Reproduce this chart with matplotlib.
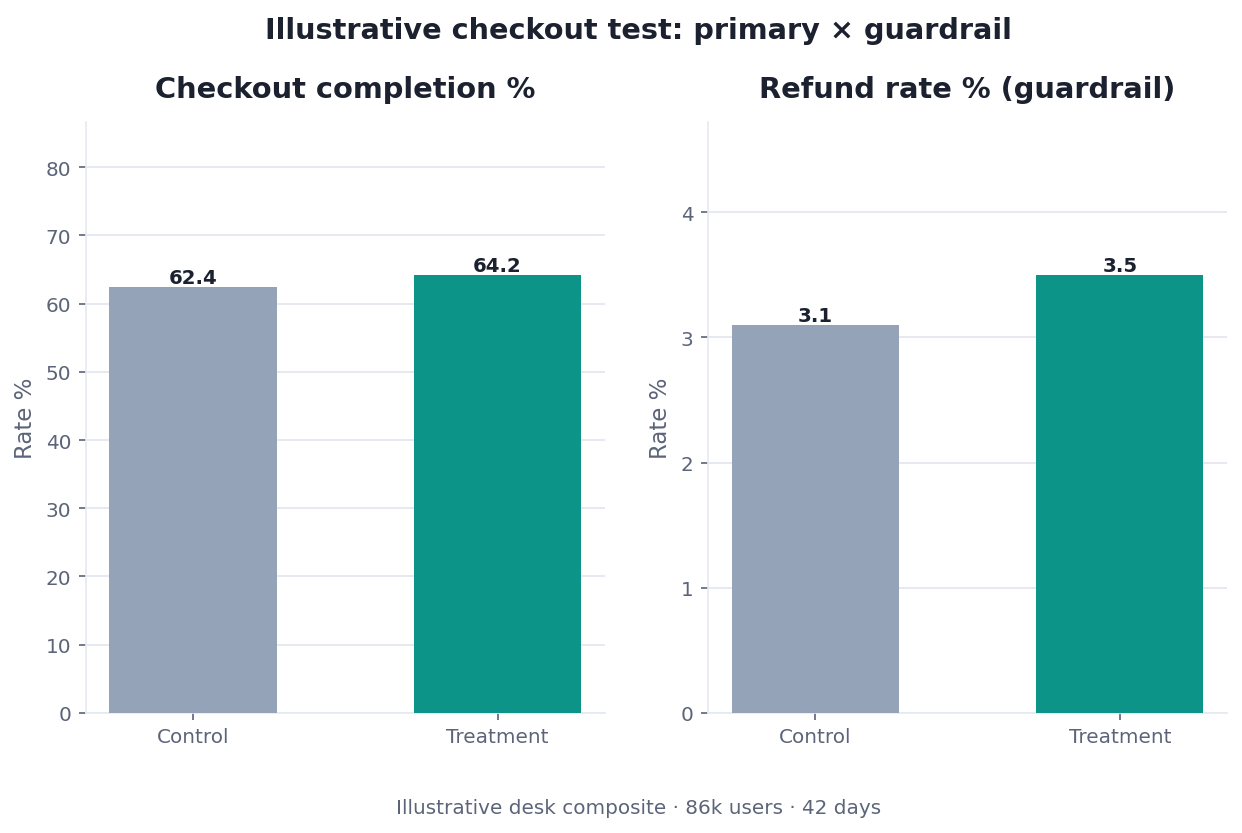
import matplotlib.pyplot as plt

groups = ["Control", "Treatment"]
completion = [62.4, 64.2]
refund = [3.1, 3.5]
bar_colors = ["#94a3b8", "#0d9488"]

panel_titles = ["Checkout completion %", "Refund rate % (guardrail)"]
suptitle = "Illustrative checkout test: primary \u00d7 guardrail"
footer = "Illustrative desk composite \u00b7 86k users \u00b7 42 days"

dark = "#1c2130"
muted = "#5b6478"
light = "#e5e9f0"

fig = plt.figure(figsize=(8.28, 5.56), dpi=150)
ax1 = fig.add_axes([0.069, 0.144, 0.418, 0.709])
ax2 = fig.add_axes([0.570, 0.144, 0.418, 0.709])

for ax, vals, title in [(ax1, completion, panel_titles[0]), (ax2, refund, panel_titles[1])]:
    bars = ax.bar(groups, vals, width=0.55, color=bar_colors, zorder=3)
    ax.set_ylim(0, max(vals) * 1.35)
    ax.set_title(title, fontsize=13.85, fontweight="bold", color=dark, pad=12)
    ax.set_ylabel("Rate %", fontsize=11, color=muted)
    for b, v in zip(bars, vals):
        ax.text(b.get_x() + b.get_width() / 2, v, "%.1f" % v, ha="center", va="bottom",
                fontsize=9.5, fontweight="bold", color=dark)
    ax.grid(axis="y", color=light, linewidth=0.9, zorder=0)
    ax.set_axisbelow(True)
    for s in ["top", "right"]:
        ax.spines[s].set_visible(False)
    for s in ["left", "bottom"]:
        ax.spines[s].set_color(light)
    ax.tick_params(axis="both", colors=muted, labelsize=9.6, labelcolor=muted)

fig.suptitle(suptitle, x=0.514, fontsize=13.8, fontweight="bold", color=dark, y=0.98)
fig.text(0.514, 0.019, footer, ha="center", va="bottom", fontsize=9.6, color=muted)

fig.savefig("out.png", dpi=150)
